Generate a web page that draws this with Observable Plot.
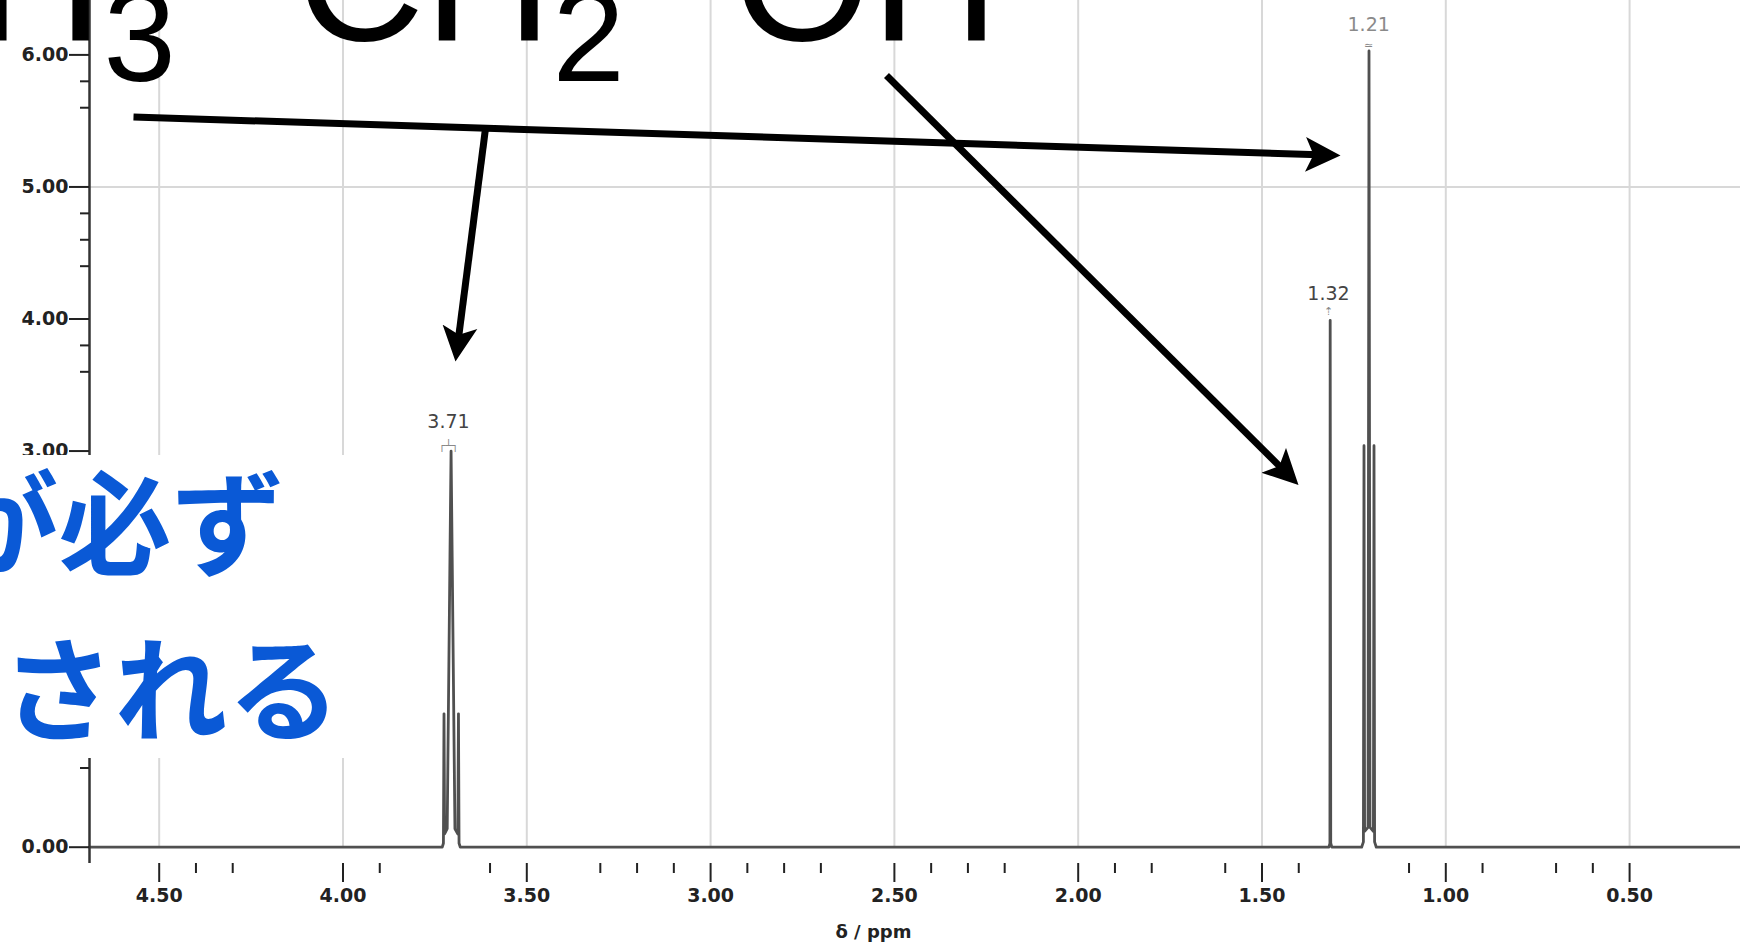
<!DOCTYPE html>
<html><head><meta charset="utf-8">
<script src="https://cdn.jsdelivr.net/npm/d3@7"></script>
<script src="https://cdn.jsdelivr.net/npm/@observablehq/plot@0.6"></script>
<style>html,body{margin:0;padding:0;background:#fff;overflow:hidden}</style>
</head><body><div id="chart"></div>
<script>
// ---- spectrum (chemical shift in ppm, intensity) ----
const shift = [4.6896, 3.7300, 3.7268, 3.7252, 3.7236, 3.7165, 3.7090, 3.7060, 3.7030, 3.6955, 3.6875, 3.6859, 3.6843, 3.6810,
  1.3180, 1.3152, 1.3145, 1.3130, 1.3100,
  1.2290, 1.2241, 1.2225, 1.2209, 1.2116, 1.2089, 1.2062, 1.1969, 1.1953, 1.1937, 1.1890, 0.1983];
const intensity = [0, 0, 0.03, 1.01, 0.10, 0.14, 2.2, 3.00, 2.2, 0.14, 0.10, 1.01, 0.03, 0,
  0, 0.03, 3.99, 0.03, 0,
  0, 0.04, 3.04, 0.12, 0.15, 6.03, 0.15, 0.12, 3.04, 0.04, 0, 0];

// ---- axes ----
const xDomain = [4.6896, 0.1983];
const yDomain = [-0.1234, 6.412];
const xMajor = [4.5, 4.0, 3.5, 3.0, 2.5, 2.0, 1.5, 1.0, 0.5];
const xMinor = [4.4, 4.3, 3.9, 3.6, 3.3, 3.2, 3.1, 2.9, 2.8, 2.7, 2.4, 2.3, 2.2, 1.9, 1.8, 1.6, 1.4, 1.1, 0.9, 0.7, 0.6];
const yMajor = [0, 1, 2, 3, 4, 5, 6];
const yMinor = [5.8, 5.6, 4.8, 4.6, 4.4, 3.8, 3.6, 0.6];
const yGrid = [5];
const axisTitle = ["δ / ppm"];

// ---- peak labels ----
const peakLabel = ["3.71", "1.32", "1.21"];
const peakLabelX = [3.7131, 1.3191, 1.2098];
const peakLabelY = [3.224, 4.193, 6.230];
const peakLabelColor = ["#444", "#444", "#8a8a8a"];
const peakMark = ["┌┴┐", "⇡", "≃"];
const peakMarkY = [3.045, 4.06, 6.075];

// ---- annotation overlay ----
const titleText = ["H", "3", "CH", "2", "OH"];
const titleX = [4.9997, 4.6515, 4.1265, 3.4300, 2.9377];
const titleY = [6.1166, 5.7986, 6.1166, 5.7986, 6.1166];
const titleSub = [false, true, false, true, false];
const arrowX1 = [4.5699, 3.6123, 2.5215];
const arrowY1 = [5.5297, 5.4422, 5.844];
const arrowX2 = [1.2864, 3.694, 1.4007];
const arrowY2 = [5.2382, 3.678, 2.7429];
const noteText = ["が必ず", "される"];
const noteX = [5.0813, 4.929];
const noteY = [2.1333, 0.8762];
const boxX = [4.9317, 3.8436];
const boxY = [0.6717, 2.9664];

const spectrum = shift.map((s, i) => ({ppm: s, v: intensity[i]}));
const peaks = peakLabel.map((t, i) => ({t, x: peakLabelX[i], y: peakLabelY[i], c: peakLabelColor[i], m: peakMark[i], my: peakMarkY[i]}));
const title = titleText.map((t, i) => ({t, x: titleX[i], y: titleY[i], sub: titleSub[i]}));
const arrows = arrowX1.map((x, i) => ({x1: x, y1: arrowY1[i], x2: arrowX2[i], y2: arrowY2[i]}));
const notes = noteText.map((t, i) => ({t, x: noteX[i], y: noteY[i]}));
const box = [{x1: boxX[0], x2: boxX[1], y1: boxY[0], y2: boxY[1]}];

const tickFont = {fontFamily: "DejaVu Sans", fontWeight: "bold", fontSize: 19};

const chart = Plot.plot({
  width: 1740, height: 946,
  marginLeft: 89, marginRight: 0, marginTop: 0, marginBottom: 83,
  style: {fontFamily: "DejaVu Sans", fontSize: "19px", fontWeight: "bold", background: "white", color: "#222"},
  x: {domain: xDomain},
  y: {domain: yDomain},
  marks: [
    Plot.ruleX(xMajor, {y1: 0, y2: yDomain[1], stroke: "#d8d8d8", strokeWidth: 2}),
    Plot.ruleY(yGrid, {stroke: "#d8d8d8", strokeWidth: 2}),
    Plot.line(spectrum, {x: "ppm", y: "v", stroke: "#505050", strokeWidth: 2.8}),
    Plot.ruleX([xDomain[0]], {stroke: "#333", strokeWidth: 2.5}),
    Plot.axisX({ticks: xMajor, anchor: "bottom", tickSize: 19, tickPadding: 6, tickFormat: d => d.toFixed(2), label: null, stroke: "#222", strokeWidth: 2, fill: "#222", ...tickFont}),
    Plot.axisX({ticks: xMinor, anchor: "bottom", tickSize: 10, label: null, stroke: "#222", strokeWidth: 2, fill: "none"}),
    Plot.axisY({ticks: yMajor, anchor: "left", tickSize: 20, tickPadding: 1, tickFormat: d => d.toFixed(2), label: null, stroke: "#222", strokeWidth: 2, fill: "#222", ...tickFont}),
    Plot.axisY({ticks: yMinor, anchor: "left", tickSize: 9, label: null, stroke: "#222", strokeWidth: 2, fill: "none"}),
    Plot.text(axisTitle, {x: 2.557, y: -0.646, text: d => d, fontFamily: "DejaVu Sans", fontWeight: "bold", fontSize: 18, fill: "#222", lineAnchor: "middle"}),
    Plot.text(peaks, {x: "x", y: "y", text: "t", fontFamily: "DejaVu Sans", fontWeight: "normal", fontSize: 19, fill: "c", lineAnchor: "middle"}),
    Plot.text(peaks, {x: "x", y: "my", text: "m", fontFamily: "DejaVu Sans", fontWeight: "normal", fontSize: 11, fill: "#888", lineAnchor: "middle"}),
    Plot.link(arrows, {x1: "x1", y1: "y1", x2: "x2", y2: "y2", stroke: "black", strokeWidth: 7}),
    Plot.text(title.filter(d => !d.sub), {x: "x", y: "y", text: "t", fontFamily: "Liberation Sans", fontWeight: "normal", fontSize: 177, fill: "black", textAnchor: "start", lineAnchor: "bottom"}),
    Plot.text(title.filter(d => d.sub), {x: "x", y: "y", text: "t", fontFamily: "Liberation Sans", fontWeight: "normal", fontSize: 130, fill: "black", textAnchor: "start", lineAnchor: "bottom"}),
    Plot.rect(box, {x1: "x1", x2: "x2", y1: "y1", y2: "y2", fill: "white"}),
    Plot.text(notes, {x: "x", y: "y", text: "t", fontFamily: "Noto Sans CJK JP", fontWeight: "bold", fontSize: 113, fill: "#0a59d6", textAnchor: "start", lineAnchor: "bottom"})
  ]
});
document.getElementById("chart").appendChild(chart);

// filled "stealth" arrowheads on the link paths
const svg = d3.select(chart);
svg.append("defs").append("marker")
  .attr("id", "stealth").attr("markerUnits", "userSpaceOnUse")
  .attr("viewBox", "0 0 36 36").attr("markerWidth", 36).attr("markerHeight", 36)
  .attr("refX", 35).attr("refY", 18).attr("orient", "auto")
  .append("path").attr("d", "M0,0.5 L35,18 L0,35.5 L8,18 Z").attr("fill", "black");
svg.selectAll('g[aria-label="link"] path').each(function() {
  const L = this.getTotalLength();
  d3.select(this).attr("stroke-dasharray", `${L - 14} 4000`).attr("marker-end", "url(#stealth)");
});
</script></body></html>
